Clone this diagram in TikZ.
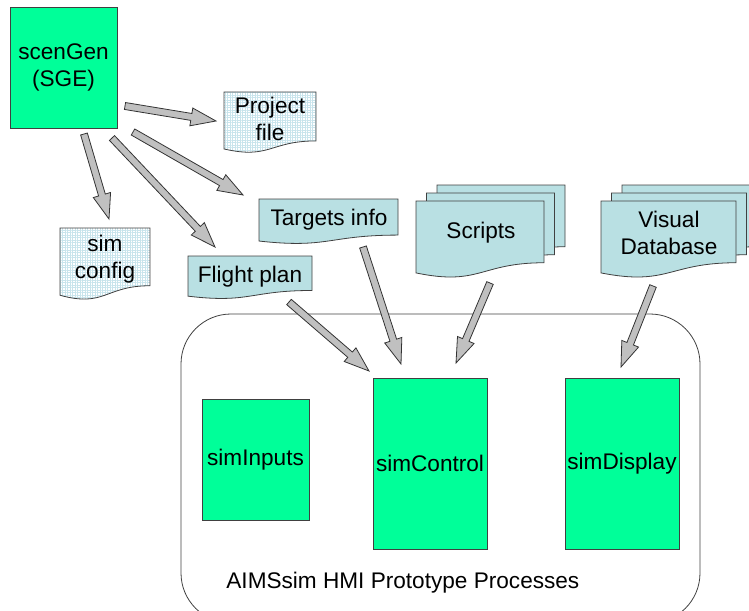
\documentclass[tikz,border=0pt]{standalone}
\usepackage{fontspec}
\setmainfont{Liberation Sans}
\usetikzlibrary{calc,patterns.meta}

\definecolor{procgreen}{RGB}{0,255,153}
\definecolor{docblue}{RGB}{185,224,227}
\definecolor{gridblue}{RGB}{200,228,236}
\definecolor{arrowgray}{RGB}{192,192,192}

\tikzset{
    procbox/.style={draw=black!75, fill=procgreen, inner sep=0pt, align=center},
    docline/.style={draw=black!75, fill=docblue},
    gridline/.style={draw=black!75, pattern={Hatch[distance=1.25pt, line width=0.2pt]}, pattern color=gridblue},
    lbl/.style={inner sep=0pt, align=center},
    barrow/.style={draw=black!80, fill=arrowgray, line width=0.4pt, line join=miter},
    frame/.style={draw=black!75, rounded corners=25pt}
}

% x y width height, in pixels of the page
\newcommand{\docpath}[4]{(#1,#2) -- ({#1+#3},#2) -- ({#1+#3},{#2+0.802*#4})
    .. controls ({#1+0.5*#3},{#2+0.802*#4}) and ({#1+0.5*#3},{#2+1.107*#4}) .. (#1,{#2+0.934*#4}) -- cycle}

\newcommand{\blockarrow}[2]{%
    \coordinate (ba-s) at (#1);
    \coordinate (ba-e) at (#2);
    \coordinate (ba-h) at ($(ba-e)!12.5pt!(ba-s)$);
    \filldraw[barrow] ($(ba-s)!1.75pt!90:(ba-e)$) -- ($(ba-h)!1.75pt!90:(ba-e)$)
        -- ($(ba-h)!4.5pt!90:(ba-e)$) -- (ba-e) -- ($(ba-h)!4.5pt!-90:(ba-e)$)
        -- ($(ba-h)!1.75pt!-90:(ba-e)$) -- ($(ba-s)!1.75pt!-90:(ba-e)$) -- cycle;
}

\begin{document}
\begin{tikzpicture}[x=0.5pt, y=-0.5pt, font=\fontsize{11.3}{13.6}\selectfont]
    \useasboundingbox (0,0) rectangle (749,610);
    \clip (0,0) rectangle (749,610);

    \draw[frame] (181,314) rectangle (700,623);
    \node[lbl, anchor=west] (caption) at (226,583) {AIMSsim HMI Prototype Processes};

    \node[procbox, minimum width=53.5pt, minimum height=60.5pt] (sge) at (63.5,67.5) {scenGen\\(SGE)};
    \node[procbox, minimum width=53.5pt, minimum height=60.5pt] (inputs) at (255.5,459.5) {simInputs};
    \node[procbox, minimum width=57pt, minimum height=85.5pt] (control) at (430,463.5) {simControl};
    \node[procbox, minimum width=57pt, minimum height=85.5pt] (display) at (622,463.5) {simDisplay};

    \fill[white] \docpath{224}{92}{92}{61};
    \draw[gridline] \docpath{224}{92}{92}{61};
    \node[lbl] (proj) at (270,119) {Project\\file};

    \fill[white] \docpath{60}{228}{90}{72};
    \draw[gridline] \docpath{60}{228}{90}{72};
    \node[lbl] (simcfg) at (105,259) {sim\\config};

    \filldraw[docline] \docpath{259}{199}{139}{45};
    \node[lbl] (targets) at (329,220) {Targets info};

    \filldraw[docline] \docpath{188}{256}{124}{43};
    \node[lbl] (flight) at (250,277) {Flight plan};

    \filldraw[docline] \docpath{437}{185}{128}{77};
    \filldraw[docline] \docpath{426.5}{193}{128}{77};
    \filldraw[docline] \docpath{416}{201}{128}{77};
    \node[lbl] (scripts) at (481,233) {Scripts};

    \filldraw[docline] \docpath{622}{185}{135}{77};
    \filldraw[docline] \docpath{611.5}{193}{135}{77};
    \filldraw[docline] \docpath{601}{201}{135}{77};
    \node[lbl] (visdb) at (669,233) {Visual\\Database};

    \blockarrow{[shift={(61.5,38.5)}]sge.center}{[shift={(-54,2)}]proj.center}
    \blockarrow{[shift={(69.5,64.5)}]sge.center}{[shift={(-86,-25)}]targets.center}
    \blockarrow{[shift={(48.5,70.5)}]sge.center}{[shift={(-35,-30)}]flight.center}
    \blockarrow{[shift={(20.5,66.5)}]sge.center}{[shift={(4,-40)}]simcfg.center}
    \blockarrow{[shift={(39,25)}]flight.center}{[shift={(-61,-92.5)}]control.center}
    \blockarrow{[shift={(34,27)}]targets.center}{[shift={(-29,-99.5)}]control.center}
    \blockarrow{[shift={(9,50)}]scripts.center}{[shift={(26,-100.5)}]control.center}
    \blockarrow{[shift={(-16,53)}]visdb.center}{[shift={(-1,-96.5)}]display.center}
\end{tikzpicture}
\end{document}
